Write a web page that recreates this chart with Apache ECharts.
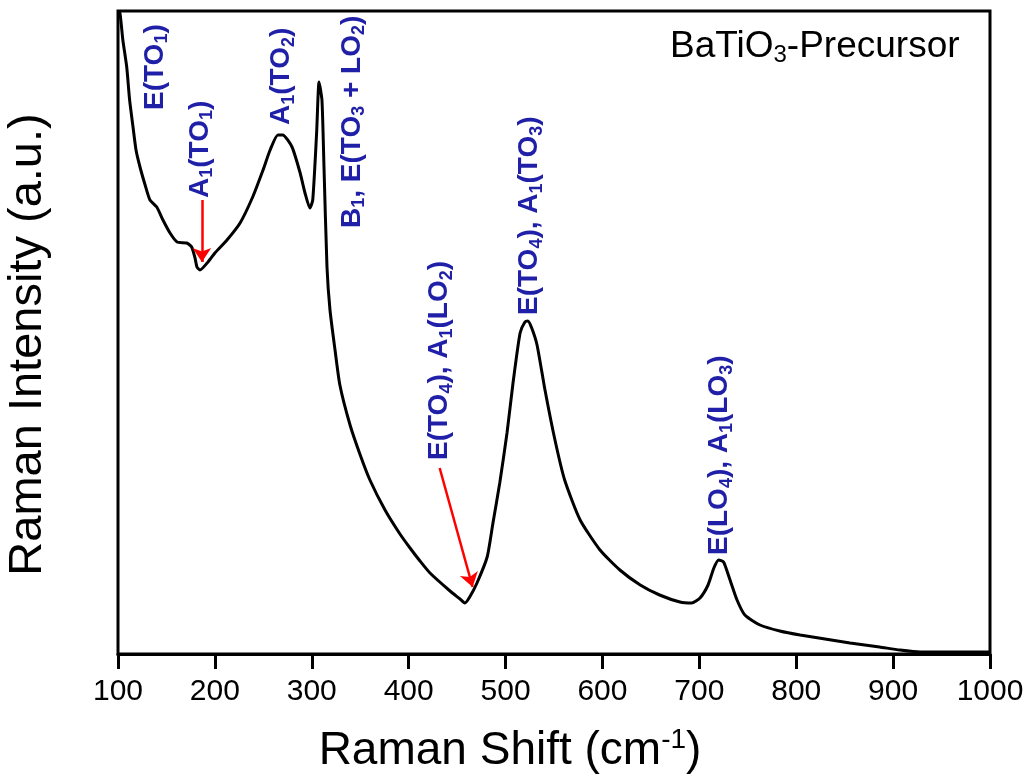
<!DOCTYPE html>
<html>
<head>
<meta charset="utf-8">
<script src="https://cdn.jsdelivr.net/npm/echarts@6/dist/echarts.min.js"></script>
<style>
  html, body { margin: 0; padding: 0; background: #fff; }
  #raman_chart_con { width: 1032px; height: 776px; }
</style>
</head>
<body>
<div id="raman_chart_con"></div>
<script>
    // spectrum (Raman shift in cm-1, intensity in a.u.)
    var ramanShift = [100, 102, 105, 109, 112, 115.5, 118.6, 122.7, 128, 133, 140, 146.4, 153.7, 161, 171, 176,
        179.5, 181.5, 184.6, 192, 200, 212.5, 226, 239, 249.7, 257, 265, 270, 279.6, 288, 293, 298, 301, 305,
        307.5, 310.5, 312.6, 315.7, 318.8, 324, 329, 339.5, 350, 360, 375.6, 391, 401.4, 411.7, 422, 442.7, 453, 458,
        463, 470.5, 481, 487, 494, 501.5, 507.7, 515, 520, 523, 527, 532.5, 540.7, 551, 561, 577, 597.5, 618,
        639, 659, 680, 692, 700.7, 709, 715, 720, 725, 731, 738.9, 747, 762.6, 783, 804, 855.5, 886, 907, 928, 1000];
    var ramanIntensity = [642, 641, 614, 587, 554, 527, 504, 487, 469, 454, 447, 434, 421, 412, 411, 407,
        396, 387, 384, 391, 401, 414, 431, 457, 484, 504, 519, 519, 507, 481, 461, 446, 454, 521,
        572, 554, 487, 387, 344, 304, 269, 229, 199, 174, 144, 120, 106, 93, 81, 63, 55, 51,
        57, 71, 97, 131, 171, 221, 271, 321, 332, 333, 326, 309, 264, 214, 174, 134, 104, 84,
        69, 59, 52, 51, 56, 69, 86, 94, 92, 76, 54, 39, 29, 23, 19, 11, 7, 4, 2, 2];

    var xTicks = [100, 200, 300, 400, 500, 600, 700, 800, 900, 1000];

    // peak assignments: rich text, anchor = bottom end of the rotated label
    var peakLabels = [
        '{n|E(TO}{s|1}{n|)}',
        '{n|A}{s|1}{n|(TO}{s|1}{n|)}',
        '{n|A}{s|1}{n|(TO}{s|2}{n|)}',
        '{n|B}{s|1}{n|, E(TO}{s|3}{n| + LO}{s|2}{n|)}',
        '{n|E(TO}{s|4}{n|), A}{s|1}{n|(LO}{s|2}{n|)}',
        '{n|E(TO}{s|4}{n|), A}{s|1}{n|(TO}{s|3}{n|)}',
        '{n|E(LO}{s|4}{n|), A}{s|1}{n|(LO}{s|3}{n|)}'
    ];
    var peakLabelShift = [138, 184.6, 269, 341.5, 432, 525, 721];
    var peakLabelIntensity = [544, 456, 529, 426, 194, 339, 99];

    // red arrows [fromShift, fromIntensity, toShift, toIntensity]
    var arrows = [
        [186.6, 454, 186.6, 392],
        [432, 186, 466, 67]
    ];

    var seriesData = ramanShift.map(function (x, i) { return [x, ramanIntensity[i]]; });
    var font = 'Liberation Sans, Arial, sans-serif';
    var blue = '#1f1fa8';

    var chart = echarts.init(document.getElementById('raman_chart_con'));
    chart.setOption({
        animation: false,
        grid: {
            left: 118,
            right: 42,
            top: 11,
            bottom: 122,
            outerBoundsMode: 'none',
            containLabel: false,
            show: true,
            borderColor: '#000',
            borderWidth: 3
        },
        xAxis: {
            type: 'value',
            min: 100,
            max: 1000,
            interval: 100,
            name: '{a|Raman Shift (cm}{b|-1}{a|)}',
            nameLocation: 'middle',
            nameGap: 72,
            nameTextStyle: {
                padding: [0, 88, 0, 0],
                rich: {
                    a: { fontFamily: font, fontSize: 46, color: '#000', lineHeight: 50 },
                    b: { fontFamily: font, fontSize: 28, color: '#000', verticalAlign: 'top', lineHeight: 50 }
                }
            },
            splitLine: { show: false },
            axisLine: { show: true, lineStyle: { color: '#000', width: 3 } },
            axisTick: { show: true, inside: false, length: 15, lineStyle: { color: '#000', width: 3 } },
            axisLabel: {
                margin: 23,
                fontFamily: font,
                fontSize: 30,
                color: '#000',
                formatter: function (v) { return xTicks.indexOf(v) >= 0 ? String(v) : ''; }
            }
        },
        yAxis: {
            type: 'value',
            min: 0,
            max: 643,
            name: 'Raman Intensity (a.u.)',
            nameLocation: 'middle',
            nameGap: 66,
            nameTextStyle: { fontFamily: font, fontSize: 47, color: '#000', padding: [0, 24, 0, 0] },
            splitLine: { show: false },
            axisLine: { show: false },
            axisTick: { show: false },
            axisLabel: { show: false }
        },
        series: [{
            type: 'line',
            data: seriesData,
            showSymbol: false,
            smooth: 0.2,
            lineStyle: { color: '#000', width: 3 },
            markLine: {
                silent: true,
                symbol: ['none', 'arrow'],
                symbolSize: 14,
                label: { show: false },
                lineStyle: { color: '#ff0000', width: 2.5, type: 'solid' },
                data: arrows.map(function (a) {
                    return [{ coord: [a[0], a[1]] }, { coord: [a[2], a[3]] }];
                })
            }
        }]
    });

    var graphics = peakLabels.map(function (txt, i) {
        var p = chart.convertToPixel({ gridIndex: 0 }, [peakLabelShift[i], peakLabelIntensity[i]]);
        return {
            type: 'text',
            x: p[0],
            y: p[1],
            rotation: Math.PI / 2,
            silent: true,
            style: {
                text: txt,
                fill: blue,
                align: 'left',
                verticalAlign: 'middle',
                rich: {
                    n: { fontFamily: font, fontSize: 28, fontWeight: 'bold', fill: blue, lineHeight: 32 },
                    s: { fontFamily: font, fontSize: 18, fontWeight: 'bold', fill: blue, lineHeight: 18, verticalAlign: 'bottom' }
                }
            }
        };
    });
    graphics.push({
        type: 'text',
        x: 670,
        y: 47,
        silent: true,
        style: {
            text: '{n|BaTiO}{s|3}{n|-Precursor}',
            fill: '#000',
            align: 'left',
            verticalAlign: 'middle',
            rich: {
                n: { fontFamily: font, fontSize: 37, fill: '#000', lineHeight: 40 },
                s: { fontFamily: font, fontSize: 24, fill: '#000', lineHeight: 24, verticalAlign: 'bottom' }
            }
        }
    });
    chart.setOption({ graphic: graphics });
</script>
</body>
</html>
